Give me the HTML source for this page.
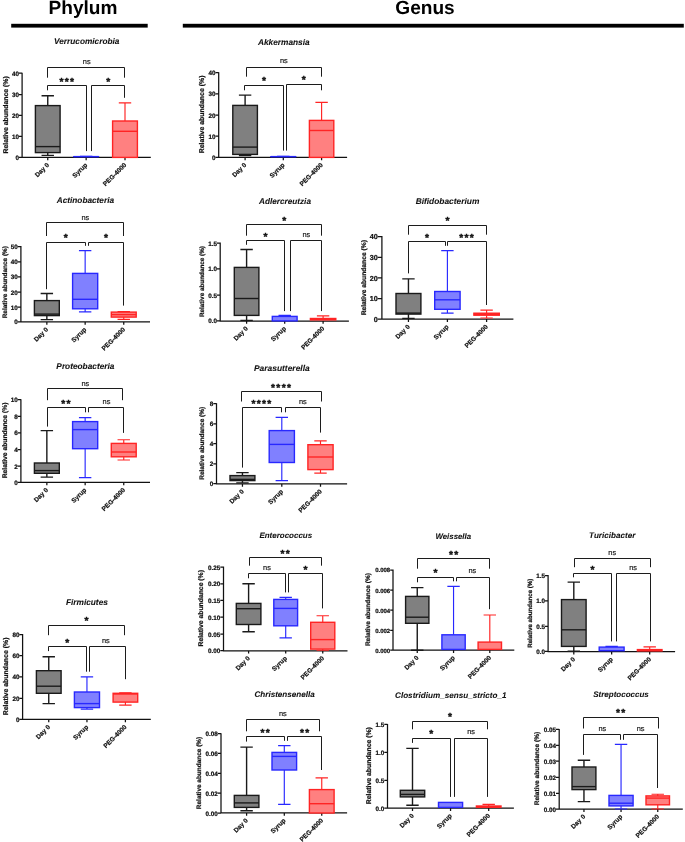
<!DOCTYPE html>
<html lang="en"><head><meta charset="utf-8"><title>Phylum and Genus relative abundance</title>
<style>
html,body{margin:0;padding:0;background:#fff;}
body{width:685px;height:842px;overflow:hidden;}
svg{display:block;filter:blur(0.35px);}
text{text-rendering:geometricPrecision;}
.b text{stroke:#111;stroke-width:0.22px;}
.b text.tt{stroke-width:0.08px;}
.b text.ns{stroke:#222;stroke-width:0.2px;}
.b text.st{stroke-width:0.45px;stroke-linejoin:round;}
</style></head><body>
<svg width="685" height="842" viewBox="0 0 685 842" font-family="'Liberation Sans', Arial, sans-serif">
<rect width="685" height="842" fill="#fff"/>
<text x="83" y="14.3" font-size="19.1" font-weight="bold" text-anchor="middle" fill="#000">Phylum</text>
<rect x="11.2" y="23.8" width="136.5" height="3.8" fill="#000"/>
<text x="425" y="14.3" font-size="19.1" font-weight="bold" text-anchor="middle" fill="#000">Genus</text>
<rect x="182.8" y="23.8" width="501" height="3.8" fill="#000"/>
<g class="b">
<text x="86.7" y="44.2" font-size="8.28" font-weight="bold" font-style="italic" text-anchor="middle" fill="#111" class="tt">Verrucomicrobia</text>
<path d="M22.1 72.8V157.4H150.8M18.9 157.4H22.1M18.9 136.3H22.1M18.9 115.4H22.1M18.9 94.6H22.1M18.9 73.2H22.1M47.75 157.4V160.2M86.15 157.4V160.2M125 157.4V160.2" stroke="#111" stroke-width="1.25" fill="none"/>
<path d="M47.75 105.6V95.8M41.55 95.8H53.95" stroke="#1a1a1a" stroke-width="1.4" fill="none"/>
<path d="M47.75 152.6V155.4M41.55 155.4H53.95" stroke="#1a1a1a" stroke-width="1.4" fill="none"/>
<rect x="35.4" y="105.6" width="24.7" height="47" fill="#808080" stroke="#1a1a1a" stroke-width="1.4"/>
<path d="M35.4 146.6H60.1" stroke="#1a1a1a" stroke-width="1.4"/>
<path d="M73.1 156.6H99.2" stroke="#2828ff" stroke-width="1.2"/>
<path d="M79.95 156.3H92.35" stroke="#2828ff" stroke-width="1.2"/>
<path d="M73.6 156.6H98.7" stroke="#2828ff" stroke-width="1.4"/>
<path d="M125 121V102.9M118.8 102.9H131.2" stroke="#ff2424" stroke-width="1.15" fill="none"/>
<rect x="112.6" y="121" width="24.8" height="36.4" fill="#ff8080" stroke="#ff2424" stroke-width="1.4"/>
<path d="M112.6 131.3H137.4" stroke="#ff2424" stroke-width="1.4"/>
<text x="18.9" y="159.98" font-size="6.3" font-weight="bold" text-anchor="end" fill="#111">0</text>
<text x="18.9" y="138.88" font-size="6.3" font-weight="bold" text-anchor="end" fill="#111">10</text>
<text x="18.9" y="117.98" font-size="6.3" font-weight="bold" text-anchor="end" fill="#111">20</text>
<text x="18.9" y="97.18" font-size="6.3" font-weight="bold" text-anchor="end" fill="#111">30</text>
<text x="18.9" y="75.78" font-size="6.3" font-weight="bold" text-anchor="end" fill="#111">40</text>
<text transform="translate(8.18 114.9) rotate(-90)" font-size="6.89" font-weight="bold" text-anchor="middle" fill="#111">Relative abundance (%)</text>
<text transform="translate(49.45 165.4) rotate(-45)" font-size="6.4" font-weight="bold" text-anchor="end" fill="#111">Day 0</text>
<text transform="translate(87.85 165.4) rotate(-45)" font-size="6.4" font-weight="bold" text-anchor="end" fill="#111">Syrup</text>
<text transform="translate(126.7 165.4) rotate(-45)" font-size="6.4" font-weight="bold" text-anchor="end" fill="#111">PEG-4000</text>
<path d="M47.5 77.7V67.5H124.5V77.7" stroke="#1c1c1c" stroke-width="1.0" fill="none"/>
<text x="86.7" y="63.8" font-size="7.4" text-anchor="middle" fill="#222" class="ns">ns</text>
<path d="M47.5 90.3V85.5H86.5V151.1" stroke="#1c1c1c" stroke-width="1.0" fill="none"/>
<text x="67.45" y="84.6" font-size="10.2" font-weight="bold" text-anchor="middle" fill="#111" letter-spacing="1.3" class="st">***</text>
<path d="M91.5 151.1V85.5H124.5V97.8" stroke="#1c1c1c" stroke-width="1.0" fill="none"/>
<text x="108.95" y="84.6" font-size="10.2" font-weight="bold" text-anchor="middle" fill="#111" letter-spacing="1.3" class="st">*</text>
</g>
<g class="b">
<text x="283.8" y="44.7" font-size="8.3" font-weight="bold" font-style="italic" text-anchor="middle" fill="#111" class="tt">Akkermansia</text>
<path d="M218.7 72.3V157.4H347.1M215.5 157.4H218.7M215.5 136.2H218.7M215.5 115H218.7M215.5 93.9H218.7M215.5 72.7H218.7M245.1 157.4V160.2M283.3 157.4V160.2M321.6 157.4V160.2" stroke="#111" stroke-width="1.25" fill="none"/>
<path d="M245.1 105.4V95.1M238.9 95.1H251.3" stroke="#1a1a1a" stroke-width="1.4" fill="none"/>
<path d="M245.1 154.4V155.6M238.9 155.6H251.3" stroke="#1a1a1a" stroke-width="1.4" fill="none"/>
<rect x="232.8" y="105.4" width="24.6" height="49" fill="#808080" stroke="#1a1a1a" stroke-width="1.4"/>
<path d="M232.8 147.1H257.4" stroke="#1a1a1a" stroke-width="1.4"/>
<path d="M270.2 156.6H296.4" stroke="#2828ff" stroke-width="1.2"/>
<path d="M277.1 156.3H289.5" stroke="#2828ff" stroke-width="1.2"/>
<path d="M270.7 156.6H295.9" stroke="#2828ff" stroke-width="1.4"/>
<path d="M321.6 120.4V102.4M315.4 102.4H327.8" stroke="#ff2424" stroke-width="1.15" fill="none"/>
<rect x="309.4" y="120.4" width="24.4" height="37" fill="#ff8080" stroke="#ff2424" stroke-width="1.4"/>
<path d="M309.4 130.5H333.8" stroke="#ff2424" stroke-width="1.4"/>
<text x="215.5" y="159.98" font-size="6.3" font-weight="bold" text-anchor="end" fill="#111">0</text>
<text x="215.5" y="138.78" font-size="6.3" font-weight="bold" text-anchor="end" fill="#111">10</text>
<text x="215.5" y="117.58" font-size="6.3" font-weight="bold" text-anchor="end" fill="#111">20</text>
<text x="215.5" y="96.48" font-size="6.3" font-weight="bold" text-anchor="end" fill="#111">30</text>
<text x="215.5" y="75.28" font-size="6.3" font-weight="bold" text-anchor="end" fill="#111">40</text>
<text transform="translate(204.1 114.4) rotate(-90)" font-size="6.93" font-weight="bold" text-anchor="middle" fill="#111">Relative abundance (%)</text>
<text transform="translate(246.8 165.4) rotate(-45)" font-size="6.4" font-weight="bold" text-anchor="end" fill="#111">Day 0</text>
<text transform="translate(285 165.4) rotate(-45)" font-size="6.4" font-weight="bold" text-anchor="end" fill="#111">Syrup</text>
<text transform="translate(323.3 165.4) rotate(-45)" font-size="6.4" font-weight="bold" text-anchor="end" fill="#111">PEG-4000</text>
<path d="M246.5 76.7V67.5H321.5V76.7" stroke="#1c1c1c" stroke-width="1.0" fill="none"/>
<text x="283.8" y="63.2" font-size="7.4" text-anchor="middle" fill="#222" class="ns">ns</text>
<path d="M244.5 90.3V85.5H283.5V150.6" stroke="#1c1c1c" stroke-width="1.0" fill="none"/>
<text x="264.65" y="83.6" font-size="10.2" font-weight="bold" text-anchor="middle" fill="#111" letter-spacing="1.3" class="st">*</text>
<path d="M286.5 150.6V84.5H321.5V90.3" stroke="#1c1c1c" stroke-width="1.0" fill="none"/>
<text x="304.35" y="83.1" font-size="10.2" font-weight="bold" text-anchor="middle" fill="#111" letter-spacing="1.3" class="st">*</text>
</g>
<g class="b">
<text x="85.4" y="203.4" font-size="8.25" font-weight="bold" font-style="italic" text-anchor="middle" fill="#111" class="tt">Actinobacteria</text>
<path d="M20.9 246.1V321.9H150M17.7 321.9H20.9M17.7 307.1H20.9M17.7 292H20.9M17.7 276.9H20.9M17.7 261.9H20.9M17.7 246.5H20.9M46.85 321.9V324.7M85.15 321.9V324.7M123.75 321.9V324.7" stroke="#111" stroke-width="1.25" fill="none"/>
<path d="M46.85 300.6V293.5M40.65 293.5H53.05" stroke="#1a1a1a" stroke-width="1.4" fill="none"/>
<path d="M46.85 315.6V319.6M40.65 319.6H53.05" stroke="#1a1a1a" stroke-width="1.4" fill="none"/>
<rect x="34.4" y="300.6" width="24.9" height="15" fill="#808080" stroke="#1a1a1a" stroke-width="1.4"/>
<path d="M34.4 314.1H59.3" stroke="#1a1a1a" stroke-width="1.4"/>
<path d="M85.15 273.4V250.6M78.95 250.6H91.35" stroke="#2828ff" stroke-width="1.15" fill="none"/>
<path d="M85.15 308.8V311.9M78.95 311.9H91.35" stroke="#2828ff" stroke-width="1.15" fill="none"/>
<rect x="72.6" y="273.4" width="25.1" height="35.4" fill="#8080ff" stroke="#2828ff" stroke-width="1.4"/>
<path d="M72.6 299.3H97.7" stroke="#2828ff" stroke-width="1.4"/>
<path d="M123.75 312.1V311.6M117.55 311.6H129.95" stroke="#ff2424" stroke-width="1.15" fill="none"/>
<path d="M123.75 317.1V319.4M117.55 319.4H129.95" stroke="#ff2424" stroke-width="1.15" fill="none"/>
<rect x="111.3" y="312.1" width="24.9" height="5" fill="#ff8080" stroke="#ff2424" stroke-width="1.4"/>
<path d="M111.3 314.6H136.2" stroke="#ff2424" stroke-width="1.4"/>
<text x="17.7" y="324.48" font-size="6.3" font-weight="bold" text-anchor="end" fill="#111">0</text>
<text x="17.7" y="309.68" font-size="6.3" font-weight="bold" text-anchor="end" fill="#111">10</text>
<text x="17.7" y="294.58" font-size="6.3" font-weight="bold" text-anchor="end" fill="#111">20</text>
<text x="17.7" y="279.48" font-size="6.3" font-weight="bold" text-anchor="end" fill="#111">30</text>
<text x="17.7" y="264.48" font-size="6.3" font-weight="bold" text-anchor="end" fill="#111">40</text>
<text x="17.7" y="249.08" font-size="6.3" font-weight="bold" text-anchor="end" fill="#111">50</text>
<text transform="translate(6.52 282.2) rotate(-90)" font-size="6.44" font-weight="bold" text-anchor="middle" fill="#111">Relative abundance (%)</text>
<text transform="translate(48.55 329.9) rotate(-45)" font-size="6.4" font-weight="bold" text-anchor="end" fill="#111">Day 0</text>
<text transform="translate(86.85 329.9) rotate(-45)" font-size="6.4" font-weight="bold" text-anchor="end" fill="#111">Syrup</text>
<text transform="translate(125.45 329.9) rotate(-45)" font-size="6.4" font-weight="bold" text-anchor="end" fill="#111">PEG-4000</text>
<path d="M46.5 236V222.5H123.5V236" stroke="#1c1c1c" stroke-width="1.0" fill="none"/>
<text x="85.4" y="219.9" font-size="7.4" text-anchor="middle" fill="#222" class="ns">ns</text>
<path d="M46.5 289.2V242.5H85.5V245.8" stroke="#1c1c1c" stroke-width="1.0" fill="none"/>
<text x="66.45" y="241.2" font-size="10.2" font-weight="bold" text-anchor="middle" fill="#111" letter-spacing="1.3" class="st">*</text>
<path d="M88.5 245.8V242.5H123.5V305.6" stroke="#1c1c1c" stroke-width="1.0" fill="none"/>
<text x="106.65" y="241.2" font-size="10.2" font-weight="bold" text-anchor="middle" fill="#111" letter-spacing="1.3" class="st">*</text>
</g>
<g class="b">
<text x="285" y="203.7" font-size="8.2" font-weight="bold" font-style="italic" text-anchor="middle" fill="#111" class="tt">Adlercreutzia</text>
<path d="M220.2 242.6V321H348.9M217 320.9H220.2M217 295H220.2M217 268.9H220.2M217 243H220.2M246.6 321V323.8M284.7 321V323.8M323.1 321V323.8" stroke="#111" stroke-width="1.25" fill="none"/>
<path d="M246.6 267.4V249.5M240.4 249.5H252.8" stroke="#1a1a1a" stroke-width="1.4" fill="none"/>
<path d="M246.6 315.4V320.4M240.4 320.4H252.8" stroke="#1a1a1a" stroke-width="1.4" fill="none"/>
<rect x="234.3" y="267.4" width="24.6" height="48" fill="#808080" stroke="#1a1a1a" stroke-width="1.4"/>
<path d="M234.3 298.5H258.9" stroke="#1a1a1a" stroke-width="1.4"/>
<path d="M284.7 316.4V315.4M278.5 315.4H290.9" stroke="#2828ff" stroke-width="1.15" fill="none"/>
<rect x="272.3" y="316.4" width="24.8" height="4.5" fill="#8080ff" stroke="#2828ff" stroke-width="1.4"/>
<path d="M323.1 318.5V315.8M316.9 315.8H329.3" stroke="#ff2424" stroke-width="1.15" fill="none"/>
<rect x="310.4" y="318.5" width="25.4" height="1.4" fill="#ff2424" stroke="#ff2424" stroke-width="1.4"/>
<text x="217" y="323.48" font-size="6.3" font-weight="bold" text-anchor="end" fill="#111">0.0</text>
<text x="217" y="297.58" font-size="6.3" font-weight="bold" text-anchor="end" fill="#111">0.5</text>
<text x="217" y="271.48" font-size="6.3" font-weight="bold" text-anchor="end" fill="#111">1.0</text>
<text x="217" y="245.58" font-size="6.3" font-weight="bold" text-anchor="end" fill="#111">1.5</text>
<text transform="translate(203.88 281.6) rotate(-90)" font-size="6.33" font-weight="bold" text-anchor="middle" fill="#111">Relative abundance (%)</text>
<text transform="translate(248.3 329) rotate(-45)" font-size="6.4" font-weight="bold" text-anchor="end" fill="#111">Day 0</text>
<text transform="translate(286.4 329) rotate(-45)" font-size="6.4" font-weight="bold" text-anchor="end" fill="#111">Syrup</text>
<text transform="translate(324.8 329) rotate(-45)" font-size="6.4" font-weight="bold" text-anchor="end" fill="#111">PEG-4000</text>
<path d="M246.5 235.7V224.5H321.5V235.7" stroke="#1c1c1c" stroke-width="1.0" fill="none"/>
<text x="284.95" y="223.6" font-size="10.2" font-weight="bold" text-anchor="middle" fill="#111" letter-spacing="1.3" class="st">*</text>
<path d="M246.5 244.8V240.5H284.5V311.1" stroke="#1c1c1c" stroke-width="1.0" fill="none"/>
<text x="266.15" y="239.8" font-size="10.2" font-weight="bold" text-anchor="middle" fill="#111" letter-spacing="1.3" class="st">*</text>
<path d="M290.5 311.1V240.5H321.5V311.1" stroke="#1c1c1c" stroke-width="1.0" fill="none"/>
<text x="306.4" y="237" font-size="7.4" text-anchor="middle" fill="#222" class="ns">ns</text>
</g>
<g class="b">
<text x="447.5" y="204.2" font-size="8.4" font-weight="bold" font-style="italic" text-anchor="middle" fill="#111" class="tt">Bifidobacterium</text>
<path d="M381.9 236.1V319.2H513.4M377.7 319.1H381.9M377.7 298.5H381.9M377.7 277.9H381.9M377.7 257.3H381.9M377.7 236.5H381.9M408.45 319.2V322M447.4 319.2V322M486.6 319.2V322" stroke="#111" stroke-width="1.25" fill="none"/>
<path d="M408.45 293.5V278.9M402.25 278.9H414.65" stroke="#1a1a1a" stroke-width="1.4" fill="none"/>
<path d="M408.45 314.1V318.4M402.25 318.4H414.65" stroke="#1a1a1a" stroke-width="1.4" fill="none"/>
<rect x="396" y="293.5" width="24.9" height="20.6" fill="#808080" stroke="#1a1a1a" stroke-width="1.4"/>
<path d="M396 313.1H420.9" stroke="#1a1a1a" stroke-width="1.4"/>
<path d="M447.4 291.5V250.6M441.2 250.6H453.6" stroke="#2828ff" stroke-width="1.15" fill="none"/>
<path d="M447.4 309.3V313.1M441.2 313.1H453.6" stroke="#2828ff" stroke-width="1.15" fill="none"/>
<rect x="434.7" y="291.5" width="25.4" height="17.8" fill="#8080ff" stroke="#2828ff" stroke-width="1.4"/>
<path d="M434.7 299.8H460.1" stroke="#2828ff" stroke-width="1.4"/>
<path d="M486.6 313.2V310.1M480.4 310.1H492.8" stroke="#ff2424" stroke-width="1.15" fill="none"/>
<path d="M486.6 315.2V318M480.4 318H492.8" stroke="#ff2424" stroke-width="1.15" fill="none"/>
<rect x="473.9" y="313.2" width="25.4" height="2" fill="#ff2424" stroke="#ff2424" stroke-width="1.4"/>
<path d="M473.9 314.2H499.3" stroke="#ff2424" stroke-width="1.4"/>
<text x="377.7" y="322.05" font-size="7.2" font-weight="bold" text-anchor="end" fill="#111">0</text>
<text x="377.7" y="301.45" font-size="7.2" font-weight="bold" text-anchor="end" fill="#111">10</text>
<text x="377.7" y="280.85" font-size="7.2" font-weight="bold" text-anchor="end" fill="#111">20</text>
<text x="377.7" y="260.25" font-size="7.2" font-weight="bold" text-anchor="end" fill="#111">30</text>
<text x="377.7" y="239.45" font-size="7.2" font-weight="bold" text-anchor="end" fill="#111">40</text>
<text transform="translate(365.61 277.7) rotate(-90)" font-size="6.71" font-weight="bold" text-anchor="middle" fill="#111">Relative abundance (%)</text>
<text transform="translate(410.15 327.2) rotate(-45)" font-size="6.4" font-weight="bold" text-anchor="end" fill="#111">Day 0</text>
<text transform="translate(449.1 327.2) rotate(-45)" font-size="6.4" font-weight="bold" text-anchor="end" fill="#111">Syrup</text>
<text transform="translate(488.3 327.2) rotate(-45)" font-size="6.4" font-weight="bold" text-anchor="end" fill="#111">PEG-4000</text>
<path d="M408.5 234.7V225.5H486.5V234.7" stroke="#1c1c1c" stroke-width="1.0" fill="none"/>
<text x="448.15" y="224" font-size="10.2" font-weight="bold" text-anchor="middle" fill="#111" letter-spacing="1.3" class="st">*</text>
<path d="M408.5 273.4V241.5H445.5V245.8" stroke="#1c1c1c" stroke-width="1.0" fill="none"/>
<text x="427.55" y="240.6" font-size="10.2" font-weight="bold" text-anchor="middle" fill="#111" letter-spacing="1.3" class="st">*</text>
<path d="M447.5 245.8V241.5H486.5V305" stroke="#1c1c1c" stroke-width="1.0" fill="none"/>
<text x="467.25" y="240.6" font-size="10.2" font-weight="bold" text-anchor="middle" fill="#111" letter-spacing="1.3" class="st">***</text>
</g>
<g class="b">
<text x="85.4" y="369.2" font-size="8.3" font-weight="bold" font-style="italic" text-anchor="middle" fill="#111" class="tt">Proteobacteria</text>
<path d="M20.9 399.3V482.4H150M17.7 482.4H20.9M17.7 466.1H20.9M17.7 449.5H20.9M17.7 432.9H20.9M17.7 416.3H20.9M17.7 399.7H20.9M46.85 482.4V485.2M85.15 482.4V485.2M123.75 482.4V485.2" stroke="#111" stroke-width="1.25" fill="none"/>
<path d="M46.85 463V430.6M40.65 430.6H53.05" stroke="#1a1a1a" stroke-width="1.4" fill="none"/>
<path d="M46.85 473.3V477.1M40.65 477.1H53.05" stroke="#1a1a1a" stroke-width="1.4" fill="none"/>
<rect x="34.4" y="463" width="24.9" height="10.3" fill="#808080" stroke="#1a1a1a" stroke-width="1.4"/>
<path d="M34.4 470.6H59.3" stroke="#1a1a1a" stroke-width="1.4"/>
<path d="M85.15 421.6V417.6M78.95 417.6H91.35" stroke="#2828ff" stroke-width="1.15" fill="none"/>
<path d="M85.15 448.7V477.6M78.95 477.6H91.35" stroke="#2828ff" stroke-width="1.15" fill="none"/>
<rect x="72.6" y="421.6" width="25.1" height="27.1" fill="#8080ff" stroke="#2828ff" stroke-width="1.4"/>
<path d="M72.6 429.6H97.7" stroke="#2828ff" stroke-width="1.4"/>
<path d="M123.75 443.4V439.7M117.55 439.7H129.95" stroke="#ff2424" stroke-width="1.15" fill="none"/>
<path d="M123.75 456.8V460M117.55 460H129.95" stroke="#ff2424" stroke-width="1.15" fill="none"/>
<rect x="111.3" y="443.4" width="24.9" height="13.4" fill="#ff8080" stroke="#ff2424" stroke-width="1.4"/>
<path d="M111.3 452H136.2" stroke="#ff2424" stroke-width="1.4"/>
<text x="17.7" y="484.98" font-size="6.3" font-weight="bold" text-anchor="end" fill="#111">0</text>
<text x="17.7" y="468.68" font-size="6.3" font-weight="bold" text-anchor="end" fill="#111">2</text>
<text x="17.7" y="452.08" font-size="6.3" font-weight="bold" text-anchor="end" fill="#111">4</text>
<text x="17.7" y="435.48" font-size="6.3" font-weight="bold" text-anchor="end" fill="#111">6</text>
<text x="17.7" y="418.88" font-size="6.3" font-weight="bold" text-anchor="end" fill="#111">8</text>
<text x="17.7" y="402.28" font-size="6.3" font-weight="bold" text-anchor="end" fill="#111">10</text>
<text transform="translate(6.63 440.4) rotate(-90)" font-size="6.75" font-weight="bold" text-anchor="middle" fill="#111">Relative abundance (%)</text>
<text transform="translate(48.55 490.4) rotate(-45)" font-size="6.4" font-weight="bold" text-anchor="end" fill="#111">Day 0</text>
<text transform="translate(86.85 490.4) rotate(-45)" font-size="6.4" font-weight="bold" text-anchor="end" fill="#111">Syrup</text>
<text transform="translate(125.45 490.4) rotate(-45)" font-size="6.4" font-weight="bold" text-anchor="end" fill="#111">PEG-4000</text>
<path d="M47.5 400.2V388.5H122.5V400.2" stroke="#1c1c1c" stroke-width="1.0" fill="none"/>
<text x="85.4" y="385.7" font-size="7.4" text-anchor="middle" fill="#222" class="ns">ns</text>
<path d="M47.5 426.6V407.5H85.5V412.3" stroke="#1c1c1c" stroke-width="1.0" fill="none"/>
<text x="66.45" y="406.8" font-size="10.2" font-weight="bold" text-anchor="middle" fill="#111" letter-spacing="1.3" class="st">**</text>
<path d="M88.5 412.3V407.5H123.5V432.9" stroke="#1c1c1c" stroke-width="1.0" fill="none"/>
<text x="106.5" y="404" font-size="7.4" text-anchor="middle" fill="#222" class="ns">ns</text>
</g>
<g class="b">
<text x="281.8" y="371.2" font-size="8.45" font-weight="bold" font-style="italic" text-anchor="middle" fill="#111" class="tt">Parasutterella</text>
<path d="M216.5 403.3V483.9H347.1M213.3 483.6H216.5M213.3 463.8H216.5M213.3 443.7H216.5M213.3 423.8H216.5M213.3 403.7H216.5M242.45 483.9V486.7M281.8 483.9V486.7M320.5 483.9V486.7" stroke="#111" stroke-width="1.25" fill="none"/>
<path d="M242.45 475.6V472.6M236.25 472.6H248.65" stroke="#1a1a1a" stroke-width="1.4" fill="none"/>
<path d="M242.45 480.6V482.9M236.25 482.9H248.65" stroke="#1a1a1a" stroke-width="1.4" fill="none"/>
<rect x="230" y="475.6" width="24.9" height="5" fill="#808080" stroke="#1a1a1a" stroke-width="1.4"/>
<path d="M230 479.4H254.9" stroke="#1a1a1a" stroke-width="1.4"/>
<path d="M281.8 430.6V417.3M275.6 417.3H288" stroke="#2828ff" stroke-width="1.15" fill="none"/>
<path d="M281.8 462.5V480.6M275.6 480.6H288" stroke="#2828ff" stroke-width="1.15" fill="none"/>
<rect x="269.2" y="430.6" width="25.2" height="31.9" fill="#8080ff" stroke="#2828ff" stroke-width="1.4"/>
<path d="M269.2 444.4H294.4" stroke="#2828ff" stroke-width="1.4"/>
<path d="M320.5 444.7V440.9M314.3 440.9H326.7" stroke="#ff2424" stroke-width="1.15" fill="none"/>
<path d="M320.5 469.6V473.1M314.3 473.1H326.7" stroke="#ff2424" stroke-width="1.15" fill="none"/>
<rect x="307.9" y="444.7" width="25.2" height="24.9" fill="#ff8080" stroke="#ff2424" stroke-width="1.4"/>
<path d="M307.9 457H333.1" stroke="#ff2424" stroke-width="1.4"/>
<text x="213.3" y="486.18" font-size="6.3" font-weight="bold" text-anchor="end" fill="#111">0</text>
<text x="213.3" y="466.38" font-size="6.3" font-weight="bold" text-anchor="end" fill="#111">2</text>
<text x="213.3" y="446.28" font-size="6.3" font-weight="bold" text-anchor="end" fill="#111">4</text>
<text x="213.3" y="426.38" font-size="6.3" font-weight="bold" text-anchor="end" fill="#111">6</text>
<text x="213.3" y="406.28" font-size="6.3" font-weight="bold" text-anchor="end" fill="#111">8</text>
<text transform="translate(203.94 443.3) rotate(-90)" font-size="6.5" font-weight="bold" text-anchor="middle" fill="#111">Relative abundance (%)</text>
<text transform="translate(244.15 491.9) rotate(-45)" font-size="6.4" font-weight="bold" text-anchor="end" fill="#111">Day 0</text>
<text transform="translate(283.5 491.9) rotate(-45)" font-size="6.4" font-weight="bold" text-anchor="end" fill="#111">Syrup</text>
<text transform="translate(322.2 491.9) rotate(-45)" font-size="6.4" font-weight="bold" text-anchor="end" fill="#111">PEG-4000</text>
<path d="M241.5 401.5V391.5H321.5V401.5" stroke="#1c1c1c" stroke-width="1.0" fill="none"/>
<text x="281.65" y="391.3" font-size="10.2" font-weight="bold" text-anchor="middle" fill="#111" letter-spacing="1.3" class="st">****</text>
<path d="M242.5 467.6V407.5H281.5V412.3" stroke="#1c1c1c" stroke-width="1.0" fill="none"/>
<text x="262.05" y="406.8" font-size="10.2" font-weight="bold" text-anchor="middle" fill="#111" letter-spacing="1.3" class="st">****</text>
<path d="M285.5 412.3V407.5H320.5V432.6" stroke="#1c1c1c" stroke-width="1.0" fill="none"/>
<text x="302.9" y="404" font-size="7.4" text-anchor="middle" fill="#222" class="ns">ns</text>
</g>
<g class="b">
<text x="86.9" y="605" font-size="8.3" font-weight="bold" font-style="italic" text-anchor="middle" fill="#111" class="tt">Firmicutes</text>
<path d="M22.6 634.1V719.4H150.8M19.4 719.4H22.6M19.4 698.3H22.6M19.4 676.9H22.6M19.4 655.6H22.6M19.4 634.5H22.6M48.75 719.4V722.2M86.95 719.4V722.2M125.4 719.4V722.2" stroke="#111" stroke-width="1.25" fill="none"/>
<path d="M48.75 670.7V656.8M42.55 656.8H54.95" stroke="#1a1a1a" stroke-width="1.4" fill="none"/>
<path d="M48.75 693.3V703.6M42.55 703.6H54.95" stroke="#1a1a1a" stroke-width="1.4" fill="none"/>
<rect x="36.4" y="670.7" width="24.7" height="22.6" fill="#808080" stroke="#1a1a1a" stroke-width="1.4"/>
<path d="M36.4 686.2H61.1" stroke="#1a1a1a" stroke-width="1.4"/>
<path d="M86.95 692V676.9M80.75 676.9H93.15" stroke="#2828ff" stroke-width="1.15" fill="none"/>
<path d="M86.95 707.6V709.1M80.75 709.1H93.15" stroke="#2828ff" stroke-width="1.15" fill="none"/>
<rect x="74.4" y="692" width="25.1" height="15.6" fill="#8080ff" stroke="#2828ff" stroke-width="1.4"/>
<path d="M74.4 703.6H99.5" stroke="#2828ff" stroke-width="1.4"/>
<path d="M125.4 693.3V692.8M119.2 692.8H131.6" stroke="#ff2424" stroke-width="1.15" fill="none"/>
<path d="M125.4 702.1V705.1M119.2 705.1H131.6" stroke="#ff2424" stroke-width="1.15" fill="none"/>
<rect x="113.1" y="693.3" width="24.6" height="8.8" fill="#ff8080" stroke="#ff2424" stroke-width="1.4"/>
<path d="M113.1 694H137.7" stroke="#ff2424" stroke-width="1.4"/>
<text x="19.4" y="721.98" font-size="6.3" font-weight="bold" text-anchor="end" fill="#111">0</text>
<text x="19.4" y="700.88" font-size="6.3" font-weight="bold" text-anchor="end" fill="#111">20</text>
<text x="19.4" y="679.48" font-size="6.3" font-weight="bold" text-anchor="end" fill="#111">40</text>
<text x="19.4" y="658.18" font-size="6.3" font-weight="bold" text-anchor="end" fill="#111">60</text>
<text x="19.4" y="637.08" font-size="6.3" font-weight="bold" text-anchor="end" fill="#111">80</text>
<text transform="translate(8.1 676.4) rotate(-90)" font-size="6.93" font-weight="bold" text-anchor="middle" fill="#111">Relative abundance (%)</text>
<text transform="translate(50.45 727.4) rotate(-45)" font-size="6.4" font-weight="bold" text-anchor="end" fill="#111">Day 0</text>
<text transform="translate(88.65 727.4) rotate(-45)" font-size="6.4" font-weight="bold" text-anchor="end" fill="#111">Syrup</text>
<text transform="translate(127.1 727.4) rotate(-45)" font-size="6.4" font-weight="bold" text-anchor="end" fill="#111">PEG-4000</text>
<path d="M48.5 635.2V625.5H124.5V635.2" stroke="#1c1c1c" stroke-width="1.0" fill="none"/>
<text x="87.05" y="624.2" font-size="10.2" font-weight="bold" text-anchor="middle" fill="#111" letter-spacing="1.3" class="st">*</text>
<path d="M48.5 651.1V646.5H86.5V671.7" stroke="#1c1c1c" stroke-width="1.0" fill="none"/>
<text x="67.95" y="645.9" font-size="10.2" font-weight="bold" text-anchor="middle" fill="#111" letter-spacing="1.3" class="st">*</text>
<path d="M89.5 671.7V646.5H125.5V679.2" stroke="#1c1c1c" stroke-width="1.0" fill="none"/>
<text x="105.8" y="642.8" font-size="7.4" text-anchor="middle" fill="#222" class="ns">ns</text>
</g>
<g class="b">
<text x="285.8" y="537.5" font-size="7.98" font-weight="bold" font-style="italic" text-anchor="middle" fill="#111" class="tt">Enterococcus</text>
<path d="M223.5 566.6V650.8H347.5M220.3 650.7H223.5M220.3 634.1H223.5M220.3 617.2H223.5M220.3 600.4H223.5M220.3 583.8H223.5M220.3 567H223.5M248.6 650.8V653.6M285.7 650.8V653.6M322.75 650.8V653.6" stroke="#111" stroke-width="1.25" fill="none"/>
<path d="M248.6 603.4V583.8M242.4 583.8H254.8" stroke="#1a1a1a" stroke-width="1.4" fill="none"/>
<path d="M248.6 624.5V631.8M242.4 631.8H254.8" stroke="#1a1a1a" stroke-width="1.4" fill="none"/>
<rect x="236.3" y="603.4" width="24.6" height="21.1" fill="#808080" stroke="#1a1a1a" stroke-width="1.4"/>
<path d="M236.3 608.7H260.9" stroke="#1a1a1a" stroke-width="1.4"/>
<path d="M285.7 599.4V597.4M279.5 597.4H291.9" stroke="#2828ff" stroke-width="1.15" fill="none"/>
<path d="M285.7 625.8V637.8M279.5 637.8H291.9" stroke="#2828ff" stroke-width="1.15" fill="none"/>
<rect x="273.8" y="599.4" width="23.8" height="26.4" fill="#8080ff" stroke="#2828ff" stroke-width="1.4"/>
<path d="M273.8 608.4H297.6" stroke="#2828ff" stroke-width="1.4"/>
<path d="M322.75 622.3V615.7M316.55 615.7H328.95" stroke="#ff2424" stroke-width="1.15" fill="none"/>
<path d="M322.75 649.1V650.2M316.55 650.2H328.95" stroke="#ff2424" stroke-width="1.15" fill="none"/>
<rect x="310.7" y="622.3" width="24.1" height="26.8" fill="#ff8080" stroke="#ff2424" stroke-width="1.4"/>
<path d="M310.7 639.6H334.8" stroke="#ff2424" stroke-width="1.4"/>
<text x="220.3" y="653.28" font-size="6.3" font-weight="bold" text-anchor="end" fill="#111">0.00</text>
<text x="220.3" y="636.68" font-size="6.3" font-weight="bold" text-anchor="end" fill="#111">0.05</text>
<text x="220.3" y="619.78" font-size="6.3" font-weight="bold" text-anchor="end" fill="#111">0.10</text>
<text x="220.3" y="602.98" font-size="6.3" font-weight="bold" text-anchor="end" fill="#111">0.15</text>
<text x="220.3" y="586.38" font-size="6.3" font-weight="bold" text-anchor="end" fill="#111">0.20</text>
<text x="220.3" y="569.58" font-size="6.3" font-weight="bold" text-anchor="end" fill="#111">0.25</text>
<text transform="translate(203.45 608.3) rotate(-90)" font-size="6.82" font-weight="bold" text-anchor="middle" fill="#111">Relative abundance (%)</text>
<text transform="translate(250.3 658.8) rotate(-45)" font-size="6.4" font-weight="bold" text-anchor="end" fill="#111">Day 0</text>
<text transform="translate(287.4 658.8) rotate(-45)" font-size="6.4" font-weight="bold" text-anchor="end" fill="#111">Syrup</text>
<text transform="translate(324.45 658.8) rotate(-45)" font-size="6.4" font-weight="bold" text-anchor="end" fill="#111">PEG-4000</text>
<path d="M249.5 565.7V557.5H321.5V565.7" stroke="#1c1c1c" stroke-width="1.0" fill="none"/>
<text x="285.75" y="556.5" font-size="10.2" font-weight="bold" text-anchor="middle" fill="#111" letter-spacing="1.3" class="st">**</text>
<path d="M248.5 578.3V573.5H285.5V592.4" stroke="#1c1c1c" stroke-width="1.0" fill="none"/>
<text x="267" y="570" font-size="7.4" text-anchor="middle" fill="#222" class="ns">ns</text>
<path d="M288.5 592.4V573.5H322.5V608.4" stroke="#1c1c1c" stroke-width="1.0" fill="none"/>
<text x="306.05" y="573.2" font-size="10.2" font-weight="bold" text-anchor="middle" fill="#111" letter-spacing="1.3" class="st">*</text>
</g>
<g class="b">
<text x="453.3" y="538.5" font-size="7.85" font-weight="bold" font-style="italic" text-anchor="middle" fill="#111" class="tt">Weissella</text>
<path d="M393 569.6V650.2H514.3M390.2 650.2H393M390.2 630.3H393M390.2 610.2H393M390.2 590.1H393M390.2 570H393M417.25 650.2V653M453.55 650.2V653M489.8 650.2V653" stroke="#111" stroke-width="1.25" fill="none"/>
<path d="M417.25 596.4V587.6M411.05 587.6H423.45" stroke="#1a1a1a" stroke-width="1.4" fill="none"/>
<path d="M417.25 623.3V650.2M411.05 650.2H423.45" stroke="#1a1a1a" stroke-width="1.4" fill="none"/>
<rect x="405.6" y="596.4" width="23.3" height="26.9" fill="#808080" stroke="#1a1a1a" stroke-width="1.4"/>
<path d="M405.6 617.2H428.9" stroke="#1a1a1a" stroke-width="1.4"/>
<path d="M453.55 634.8V586.3M447.35 586.3H459.75" stroke="#2828ff" stroke-width="1.15" fill="none"/>
<rect x="441.9" y="634.8" width="23.3" height="14.6" fill="#8080ff" stroke="#2828ff" stroke-width="1.4"/>
<path d="M489.8 642.1V615M483.6 615H496" stroke="#ff2424" stroke-width="1.15" fill="none"/>
<rect x="478.1" y="642.1" width="23.4" height="7.3" fill="#ff8080" stroke="#ff2424" stroke-width="1.4"/>
<text x="390.2" y="652.66" font-size="6.0" font-weight="bold" text-anchor="end" fill="#111">0.000</text>
<text x="390.2" y="632.76" font-size="6.0" font-weight="bold" text-anchor="end" fill="#111">0.002</text>
<text x="390.2" y="612.66" font-size="6.0" font-weight="bold" text-anchor="end" fill="#111">0.004</text>
<text x="390.2" y="592.56" font-size="6.0" font-weight="bold" text-anchor="end" fill="#111">0.006</text>
<text x="390.2" y="572.46" font-size="6.0" font-weight="bold" text-anchor="end" fill="#111">0.008</text>
<text transform="translate(370.24 609.6) rotate(-90)" font-size="6.5" font-weight="bold" text-anchor="middle" fill="#111">Relative abundance (%)</text>
<text transform="translate(418.95 658.2) rotate(-45)" font-size="6.4" font-weight="bold" text-anchor="end" fill="#111">Day 0</text>
<text transform="translate(455.25 658.2) rotate(-45)" font-size="6.4" font-weight="bold" text-anchor="end" fill="#111">Syrup</text>
<text transform="translate(491.5 658.2) rotate(-45)" font-size="6.4" font-weight="bold" text-anchor="end" fill="#111">PEG-4000</text>
<path d="M417.5 568.7V558.5H489.5V568.7" stroke="#1c1c1c" stroke-width="1.0" fill="none"/>
<text x="454.15" y="557.8" font-size="10.2" font-weight="bold" text-anchor="middle" fill="#111" letter-spacing="1.3" class="st">**</text>
<path d="M417.5 582.3V577.5H453.5V581.3" stroke="#1c1c1c" stroke-width="1.0" fill="none"/>
<text x="436.15" y="576.1" font-size="10.2" font-weight="bold" text-anchor="middle" fill="#111" letter-spacing="1.3" class="st">*</text>
<path d="M456.5 581.3V577.5H489.5V609.2" stroke="#1c1c1c" stroke-width="1.0" fill="none"/>
<text x="472.4" y="573.1" font-size="7.4" text-anchor="middle" fill="#222" class="ns">ns</text>
</g>
<g class="b">
<text x="612.2" y="537.5" font-size="8.1" font-weight="bold" font-style="italic" text-anchor="middle" fill="#111" class="tt">Turicibacter</text>
<path d="M548.1 575.1V651.7H675.1M544.9 651.4H548.1M544.9 626.3H548.1M544.9 600.9H548.1M544.9 575.5H548.1M573.8 651.7V654.5M611.65 651.7V654.5M649.7 651.7V654.5" stroke="#111" stroke-width="1.25" fill="none"/>
<path d="M573.8 599.6V582.1M567.6 582.1H580" stroke="#1a1a1a" stroke-width="1.4" fill="none"/>
<path d="M573.8 646.4V651.2M567.6 651.2H580" stroke="#1a1a1a" stroke-width="1.4" fill="none"/>
<rect x="561.5" y="599.6" width="24.6" height="46.8" fill="#808080" stroke="#1a1a1a" stroke-width="1.4"/>
<path d="M561.5 629.8H586.1" stroke="#1a1a1a" stroke-width="1.4"/>
<path d="M611.65 647.1V646.4M605.45 646.4H617.85" stroke="#2828ff" stroke-width="1.15" fill="none"/>
<rect x="599.2" y="647.1" width="24.9" height="3.6" fill="#8080ff" stroke="#2828ff" stroke-width="1.4"/>
<path d="M649.7 649.6V646.8M643.5 646.8H655.9" stroke="#ff2424" stroke-width="1.15" fill="none"/>
<rect x="637.4" y="649.6" width="24.6" height="1.3" fill="#ff2424" stroke="#ff2424" stroke-width="1.4"/>
<text x="544.9" y="653.98" font-size="6.3" font-weight="bold" text-anchor="end" fill="#111">0.0</text>
<text x="544.9" y="628.88" font-size="6.3" font-weight="bold" text-anchor="end" fill="#111">0.5</text>
<text x="544.9" y="603.48" font-size="6.3" font-weight="bold" text-anchor="end" fill="#111">1.0</text>
<text x="544.9" y="578.08" font-size="6.3" font-weight="bold" text-anchor="end" fill="#111">1.5</text>
<text transform="translate(531.92 613.2) rotate(-90)" font-size="6.16" font-weight="bold" text-anchor="middle" fill="#111">Relative abundance (%)</text>
<text transform="translate(575.5 659.7) rotate(-45)" font-size="6.4" font-weight="bold" text-anchor="end" fill="#111">Day 0</text>
<text transform="translate(613.35 659.7) rotate(-45)" font-size="6.4" font-weight="bold" text-anchor="end" fill="#111">Syrup</text>
<text transform="translate(651.4 659.7) rotate(-45)" font-size="6.4" font-weight="bold" text-anchor="end" fill="#111">PEG-4000</text>
<path d="M574.5 567.2V558.5H650.5V567.2" stroke="#1c1c1c" stroke-width="1.0" fill="none"/>
<text x="612.2" y="555" font-size="7.4" text-anchor="middle" fill="#222" class="ns">ns</text>
<path d="M573.5 577.3V573.5H611.5V641.4" stroke="#1c1c1c" stroke-width="1.0" fill="none"/>
<text x="593.25" y="573.4" font-size="10.2" font-weight="bold" text-anchor="middle" fill="#111" letter-spacing="1.3" class="st">*</text>
<path d="M616.5 641.4V573.5H650.5V641.4" stroke="#1c1c1c" stroke-width="1.0" fill="none"/>
<text x="633.1" y="569.5" font-size="7.4" text-anchor="middle" fill="#222" class="ns">ns</text>
</g>
<g class="b">
<text x="284.6" y="697.3" font-size="8.1" font-weight="bold" font-style="italic" text-anchor="middle" fill="#111" class="tt">Christensenella</text>
<path d="M221 733.2V812.9H347.1M217.8 813H221M217.8 793.1H221M217.8 773.3H221M217.8 753.4H221M217.8 733.6H221M246.6 812.9V815.7M284.3 812.9V815.7M321.75 812.9V815.7" stroke="#111" stroke-width="1.25" fill="none"/>
<path d="M246.6 795.4V747.1M240.4 747.1H252.8" stroke="#1a1a1a" stroke-width="1.4" fill="none"/>
<path d="M246.6 807.4V810.7M240.4 810.7H252.8" stroke="#1a1a1a" stroke-width="1.4" fill="none"/>
<rect x="234.3" y="795.4" width="24.6" height="12" fill="#808080" stroke="#1a1a1a" stroke-width="1.4"/>
<path d="M234.3 802.9H258.9" stroke="#1a1a1a" stroke-width="1.4"/>
<path d="M284.3 752.4V745.6M278.1 745.6H290.5" stroke="#2828ff" stroke-width="1.15" fill="none"/>
<path d="M284.3 770V804.4M278.1 804.4H290.5" stroke="#2828ff" stroke-width="1.15" fill="none"/>
<rect x="272" y="752.4" width="24.6" height="17.6" fill="#8080ff" stroke="#2828ff" stroke-width="1.4"/>
<path d="M272 756.4H296.6" stroke="#2828ff" stroke-width="1.4"/>
<path d="M321.75 789.6V777.8M315.55 777.8H327.95" stroke="#ff2424" stroke-width="1.15" fill="none"/>
<rect x="309.4" y="789.6" width="24.7" height="23.4" fill="#ff8080" stroke="#ff2424" stroke-width="1.4"/>
<path d="M309.4 803.7H334.1" stroke="#ff2424" stroke-width="1.4"/>
<text x="217.8" y="815.58" font-size="6.3" font-weight="bold" text-anchor="end" fill="#111">0.00</text>
<text x="217.8" y="795.68" font-size="6.3" font-weight="bold" text-anchor="end" fill="#111">0.02</text>
<text x="217.8" y="775.88" font-size="6.3" font-weight="bold" text-anchor="end" fill="#111">0.04</text>
<text x="217.8" y="755.98" font-size="6.3" font-weight="bold" text-anchor="end" fill="#111">0.06</text>
<text x="217.8" y="736.18" font-size="6.3" font-weight="bold" text-anchor="end" fill="#111">0.08</text>
<text transform="translate(201.12 773) rotate(-90)" font-size="6.44" font-weight="bold" text-anchor="middle" fill="#111">Relative abundance (%)</text>
<text transform="translate(248.3 820.9) rotate(-45)" font-size="6.4" font-weight="bold" text-anchor="end" fill="#111">Day 0</text>
<text transform="translate(286 820.9) rotate(-45)" font-size="6.4" font-weight="bold" text-anchor="end" fill="#111">Syrup</text>
<text transform="translate(323.45 820.9) rotate(-45)" font-size="6.4" font-weight="bold" text-anchor="end" fill="#111">PEG-4000</text>
<path d="M246.5 731.3V719.5H319.5V731.3" stroke="#1c1c1c" stroke-width="1.0" fill="none"/>
<text x="282.8" y="716" font-size="7.4" text-anchor="middle" fill="#222" class="ns">ns</text>
<path d="M246.5 741.6V736.5H284.5V740.8" stroke="#1c1c1c" stroke-width="1.0" fill="none"/>
<text x="265.85" y="735.9" font-size="10.2" font-weight="bold" text-anchor="middle" fill="#111" letter-spacing="1.3" class="st">**</text>
<path d="M287.5 740.8V736.5H321.5V770" stroke="#1c1c1c" stroke-width="1.0" fill="none"/>
<text x="305.35" y="735.9" font-size="10.2" font-weight="bold" text-anchor="middle" fill="#111" letter-spacing="1.3" class="st">**</text>
</g>
<g class="b">
<text x="450.8" y="698" font-size="8.15" font-weight="bold" font-style="italic" text-anchor="middle" fill="#111" class="tt">Clostridium_sensu_stricto_1</text>
<path d="M387.5 723.9V808.2H513.9M384.3 808.2H387.5M384.3 780.3H387.5M384.3 752.4H387.5M384.3 724.3H387.5M412.5 808.2V811M450.55 808.2V811M488.7 808.2V811" stroke="#111" stroke-width="1.25" fill="none"/>
<path d="M412.5 790.3V748.4M406.3 748.4H418.7" stroke="#1a1a1a" stroke-width="1.4" fill="none"/>
<path d="M412.5 796.9V805.2M406.3 805.2H418.7" stroke="#1a1a1a" stroke-width="1.4" fill="none"/>
<rect x="400.3" y="790.3" width="24.4" height="6.6" fill="#808080" stroke="#1a1a1a" stroke-width="1.4"/>
<path d="M400.3 794.4H424.7" stroke="#1a1a1a" stroke-width="1.4"/>
<rect x="438.5" y="802.4" width="24.1" height="5" fill="#8080ff" stroke="#2828ff" stroke-width="1.4"/>
<path d="M488.7 806V804.3M482.5 804.3H494.9" stroke="#ff2424" stroke-width="1.15" fill="none"/>
<rect x="476.4" y="806" width="24.6" height="1.3" fill="#ff2424" stroke="#ff2424" stroke-width="1.4"/>
<text x="384.3" y="810.78" font-size="6.3" font-weight="bold" text-anchor="end" fill="#111">0.0</text>
<text x="384.3" y="782.88" font-size="6.3" font-weight="bold" text-anchor="end" fill="#111">0.5</text>
<text x="384.3" y="754.98" font-size="6.3" font-weight="bold" text-anchor="end" fill="#111">1.0</text>
<text x="384.3" y="726.88" font-size="6.3" font-weight="bold" text-anchor="end" fill="#111">1.5</text>
<text transform="translate(370.78 765.7) rotate(-90)" font-size="6.89" font-weight="bold" text-anchor="middle" fill="#111">Relative abundance (%)</text>
<text transform="translate(414.2 816.2) rotate(-45)" font-size="6.4" font-weight="bold" text-anchor="end" fill="#111">Day 0</text>
<text transform="translate(452.25 816.2) rotate(-45)" font-size="6.4" font-weight="bold" text-anchor="end" fill="#111">Syrup</text>
<text transform="translate(490.4 816.2) rotate(-45)" font-size="6.4" font-weight="bold" text-anchor="end" fill="#111">PEG-4000</text>
<path d="M412.5 729.3V721.5H487.5V729.3" stroke="#1c1c1c" stroke-width="1.0" fill="none"/>
<text x="450.65" y="720.1" font-size="10.2" font-weight="bold" text-anchor="middle" fill="#111" letter-spacing="1.3" class="st">*</text>
<path d="M412.5 742.9V738.5H450.5V796.9" stroke="#1c1c1c" stroke-width="1.0" fill="none"/>
<text x="431.85" y="737.2" font-size="10.2" font-weight="bold" text-anchor="middle" fill="#111" letter-spacing="1.3" class="st">*</text>
<path d="M454.5 796.9V738.5H487.5V796.9" stroke="#1c1c1c" stroke-width="1.0" fill="none"/>
<text x="471.1" y="734.1" font-size="7.4" text-anchor="middle" fill="#222" class="ns">ns</text>
</g>
<g class="b">
<text x="621" y="697.3" font-size="8.0" font-weight="bold" font-style="italic" text-anchor="middle" fill="#111" class="tt">Streptococcus</text>
<path d="M559.2 728.9V809.1H682.8M556 809.2H559.2M556 793.4H559.2M556 777.3H559.2M556 761.2H559.2M556 745.4H559.2M556 729.3H559.2M583.95 809.1V811.9M621.05 809.1V811.9M657.75 809.1V811.9" stroke="#111" stroke-width="1.25" fill="none"/>
<path d="M583.95 767V760.2M577.75 760.2H590.15" stroke="#1a1a1a" stroke-width="1.4" fill="none"/>
<path d="M583.95 789.6V801.6M577.75 801.6H590.15" stroke="#1a1a1a" stroke-width="1.4" fill="none"/>
<rect x="572" y="767" width="23.9" height="22.6" fill="#808080" stroke="#1a1a1a" stroke-width="1.4"/>
<path d="M572 786.6H595.9" stroke="#1a1a1a" stroke-width="1.4"/>
<path d="M621.05 795.4V744.4M614.85 744.4H627.25" stroke="#2828ff" stroke-width="1.15" fill="none"/>
<path d="M621.05 805.9V809M614.85 809H627.25" stroke="#2828ff" stroke-width="1.15" fill="none"/>
<rect x="609" y="795.4" width="24.1" height="10.5" fill="#8080ff" stroke="#2828ff" stroke-width="1.4"/>
<path d="M609 803.2H633.1" stroke="#2828ff" stroke-width="1.4"/>
<path d="M657.75 795.9V794.2M651.55 794.2H663.95" stroke="#ff2424" stroke-width="1.15" fill="none"/>
<path d="M657.75 804.8V809M651.55 809H663.95" stroke="#ff2424" stroke-width="1.15" fill="none"/>
<rect x="646" y="795.9" width="23.5" height="8.9" fill="#ff8080" stroke="#ff2424" stroke-width="1.4"/>
<path d="M646 798.1H669.5" stroke="#ff2424" stroke-width="1.4"/>
<text x="556" y="811.78" font-size="6.3" font-weight="bold" text-anchor="end" fill="#111">0.00</text>
<text x="556" y="795.98" font-size="6.3" font-weight="bold" text-anchor="end" fill="#111">0.01</text>
<text x="556" y="779.88" font-size="6.3" font-weight="bold" text-anchor="end" fill="#111">0.02</text>
<text x="556" y="763.78" font-size="6.3" font-weight="bold" text-anchor="end" fill="#111">0.03</text>
<text x="556" y="747.98" font-size="6.3" font-weight="bold" text-anchor="end" fill="#111">0.04</text>
<text x="556" y="731.88" font-size="6.3" font-weight="bold" text-anchor="end" fill="#111">0.05</text>
<text transform="translate(539.26 768.6) rotate(-90)" font-size="6.55" font-weight="bold" text-anchor="middle" fill="#111">Relative abundance (%)</text>
<text transform="translate(585.65 817.1) rotate(-45)" font-size="6.4" font-weight="bold" text-anchor="end" fill="#111">Day 0</text>
<text transform="translate(622.75 817.1) rotate(-45)" font-size="6.4" font-weight="bold" text-anchor="end" fill="#111">Syrup</text>
<text transform="translate(659.45 817.1) rotate(-45)" font-size="6.4" font-weight="bold" text-anchor="end" fill="#111">PEG-4000</text>
<path d="M583.5 728.5V717.5H658.5V728.5" stroke="#1c1c1c" stroke-width="1.0" fill="none"/>
<text x="621.15" y="716" font-size="10.2" font-weight="bold" text-anchor="middle" fill="#111" letter-spacing="1.3" class="st">**</text>
<path d="M583.5 754.9V734.5H620.5V739.8" stroke="#1c1c1c" stroke-width="1.0" fill="none"/>
<text x="602.4" y="731.1" font-size="7.4" text-anchor="middle" fill="#222" class="ns">ns</text>
<path d="M623.5 739.8V734.5H657.5V788" stroke="#1c1c1c" stroke-width="1.0" fill="none"/>
<text x="640.6" y="731.1" font-size="7.4" text-anchor="middle" fill="#222" class="ns">ns</text>
</g>
</svg>
</body></html>
